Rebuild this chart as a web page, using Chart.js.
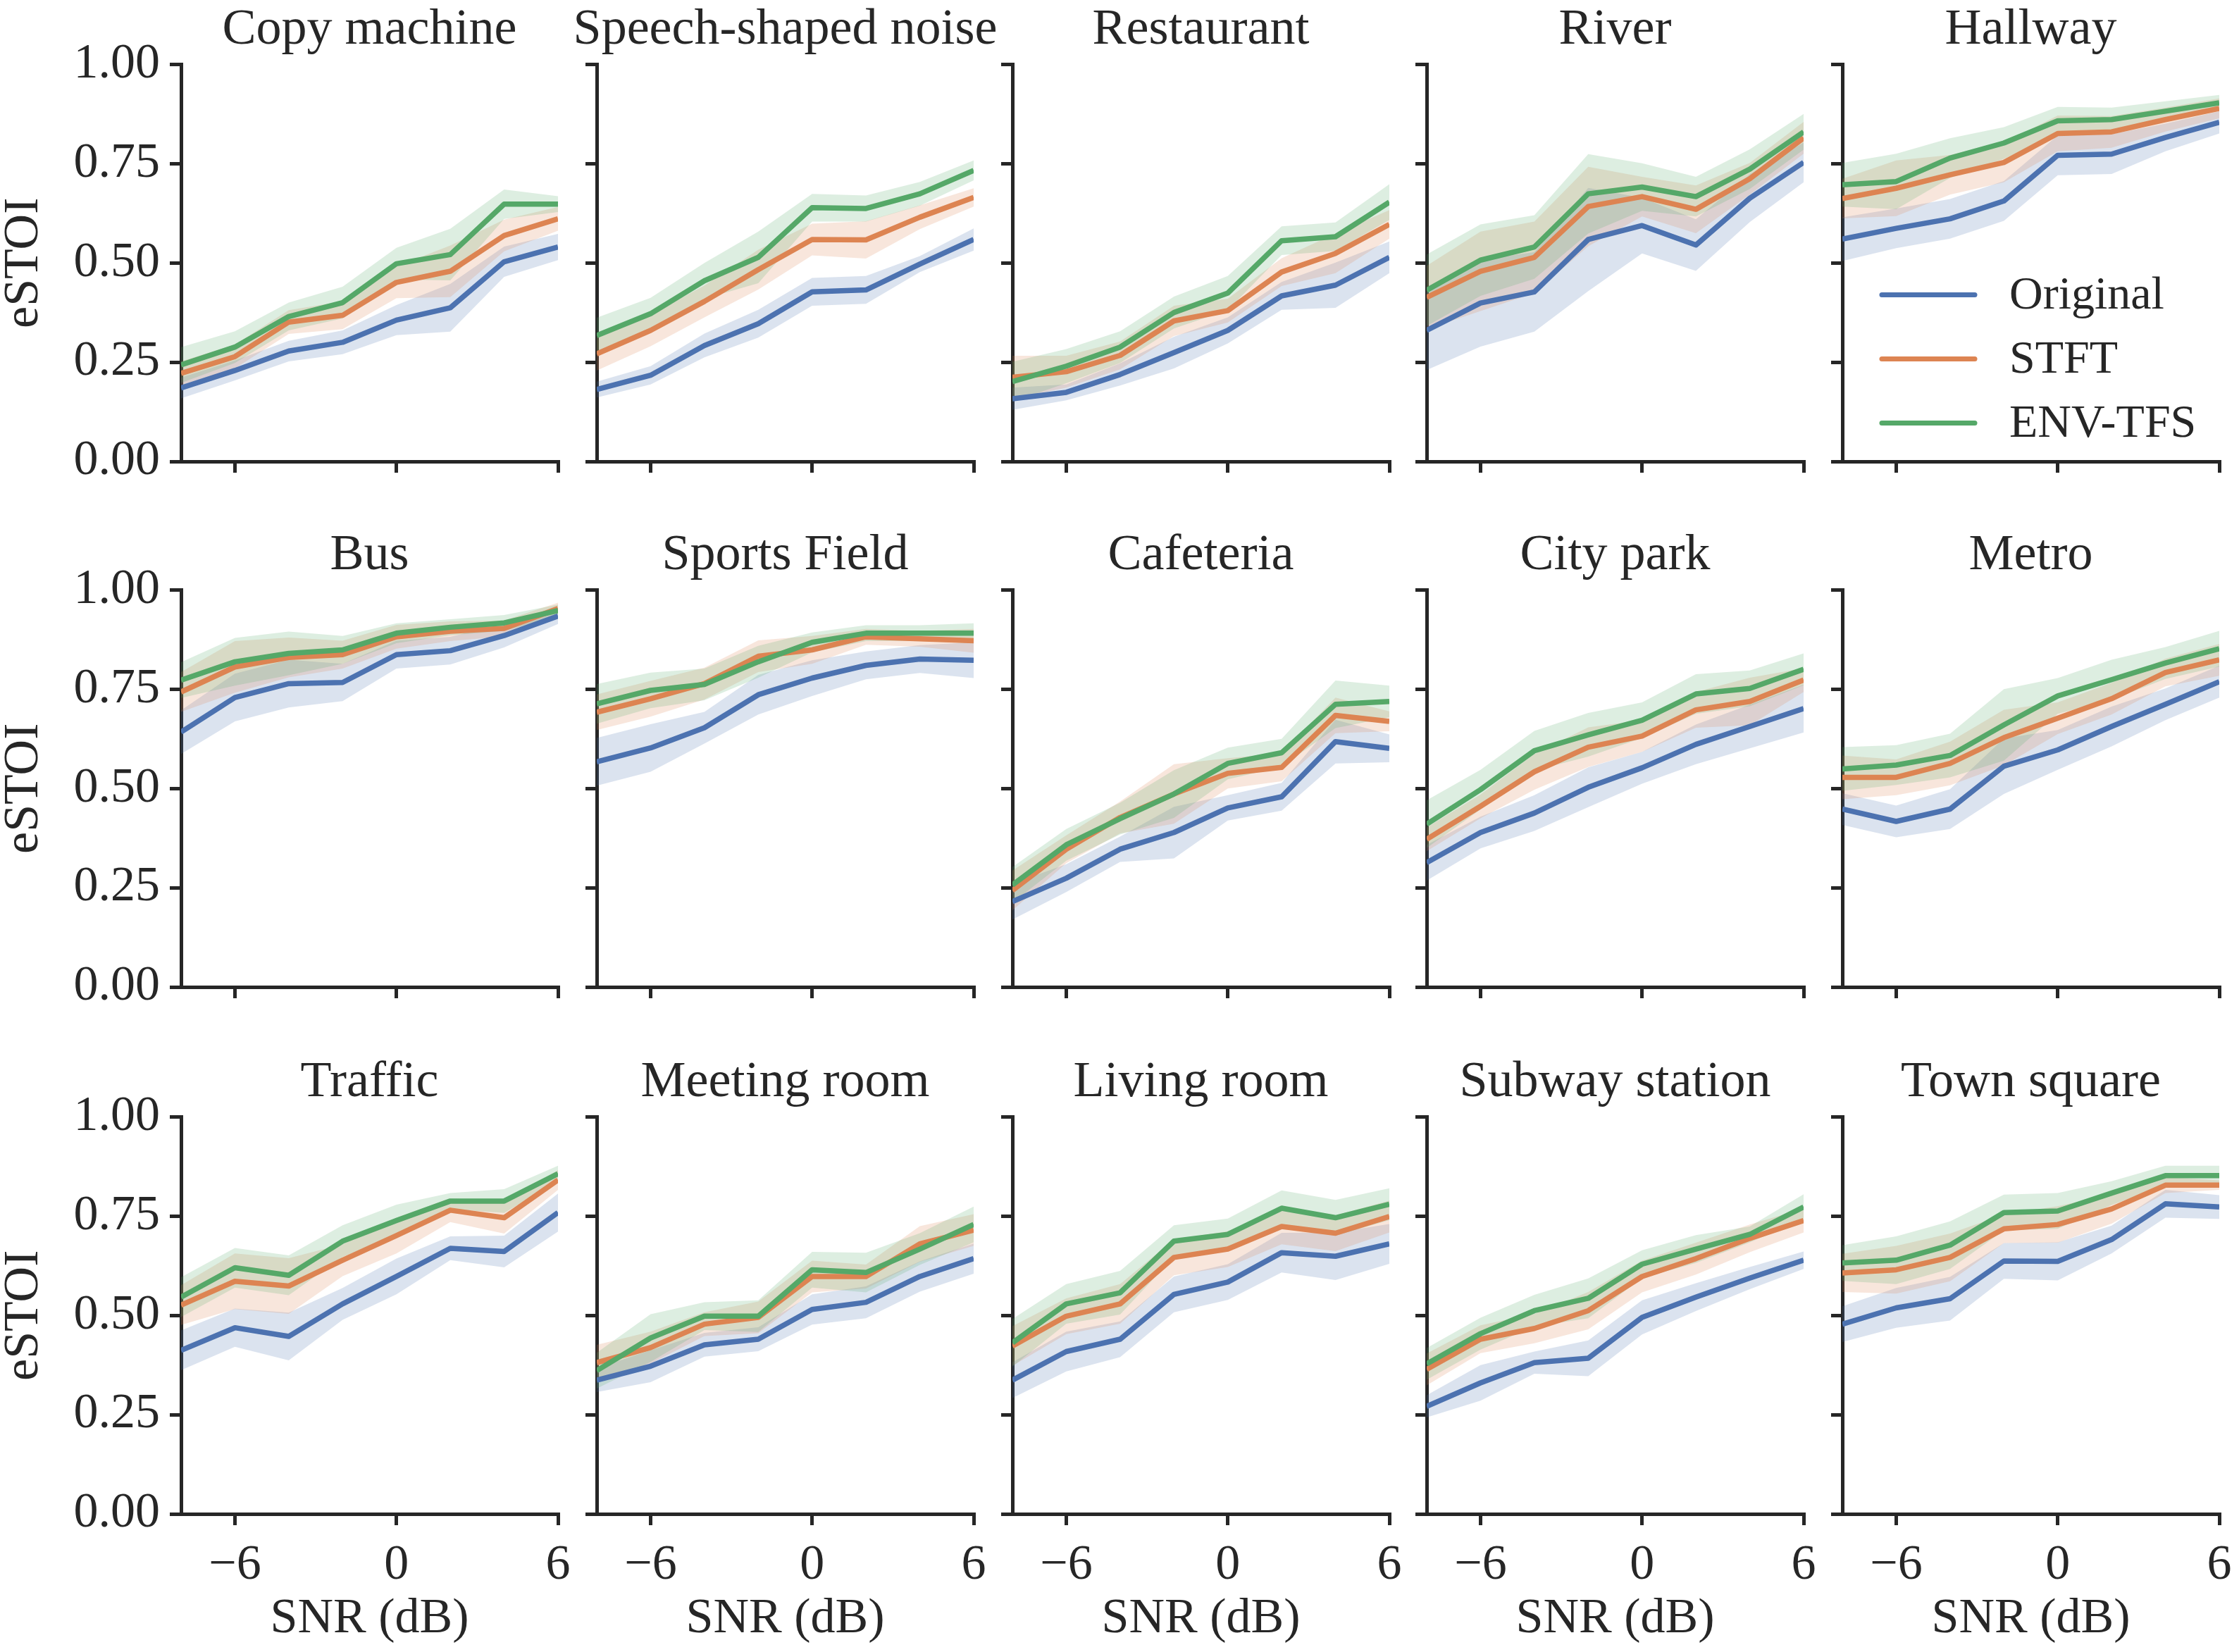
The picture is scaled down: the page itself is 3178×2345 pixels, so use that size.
<!DOCTYPE html>
<html>
<head>
<meta charset="utf-8">
<script src="https://cdn.jsdelivr.net/npm/chart.js@4.4.1/dist/chart.umd.min.js"></script>
<style>
    html, body { margin: 0; padding: 0; background: #fff; }
    #fig { position: relative; width: 3178px; height: 2345px; overflow: hidden; }
    #fig canvas { position: absolute; }
</style>
</head>
<body>
<div id="fig"></div>
<script>
/* ---- data (eSTOI per noise type, SNR -8..6 dB) ---- */
const panels = [
    "Copy machine", "Speech-shaped noise", "Restaurant", "River", "Hallway",
    "Bus", "Sports Field", "Cafeteria", "City park", "Metro",
    "Traffic", "Meeting room", "Living room", "Subway station", "Town square"
];
const snr = [-8, -6, -4, -2, 0, 2, 4, 6];
const xTicks = [-6, 0, 6];
const yTicks = [0, 0.25, 0.5, 0.75, 1];
const seriesNames = ["Original", "STFT", "ENV-TFS"];

const originalMean = [
    [0.185, 0.229, 0.278, 0.300, 0.356, 0.387, 0.503, 0.540],
    [0.181, 0.217, 0.292, 0.347, 0.427, 0.432, 0.497, 0.559],
    [0.158, 0.174, 0.219, 0.274, 0.330, 0.417, 0.444, 0.514],
    [0.330, 0.399, 0.427, 0.559, 0.594, 0.545, 0.663, 0.753],
    [0.560, 0.587, 0.611, 0.656, 0.771, 0.774, 0.816, 0.854],
    [0.642, 0.729, 0.764, 0.767, 0.837, 0.847, 0.885, 0.934],
    [0.567, 0.602, 0.653, 0.736, 0.778, 0.810, 0.826, 0.823],
    [0.215, 0.274, 0.347, 0.389, 0.451, 0.479, 0.618, 0.601],
    [0.313, 0.389, 0.438, 0.503, 0.552, 0.611, 0.656, 0.701],
    [0.448, 0.417, 0.448, 0.556, 0.597, 0.656, 0.712, 0.769],
    [0.412, 0.469, 0.447, 0.529, 0.598, 0.669, 0.661, 0.759],
    [0.337, 0.372, 0.426, 0.440, 0.515, 0.533, 0.598, 0.643],
    [0.337, 0.409, 0.440, 0.553, 0.584, 0.658, 0.649, 0.680],
    [0.271, 0.330, 0.381, 0.392, 0.495, 0.546, 0.594, 0.639],
    [0.478, 0.519, 0.542, 0.637, 0.636, 0.691, 0.781, 0.773]
];
const originalErr = [
    [0.026, 0.025, 0.026, 0.030, 0.038, 0.060, 0.038, 0.033],
    [0.020, 0.023, 0.030, 0.035, 0.035, 0.035, 0.020, 0.028],
    [0.028, 0.020, 0.028, 0.040, 0.033, 0.035, 0.057, 0.040],
    [0.100, 0.110, 0.100, 0.130, 0.070, 0.065, 0.060, 0.050],
    [0.055, 0.050, 0.050, 0.050, 0.050, 0.050, 0.035, 0.028],
    [0.055, 0.060, 0.060, 0.047, 0.035, 0.035, 0.030, 0.020],
    [0.060, 0.060, 0.040, 0.050, 0.045, 0.035, 0.035, 0.045],
    [0.045, 0.035, 0.032, 0.065, 0.032, 0.035, 0.055, 0.035],
    [0.045, 0.040, 0.045, 0.050, 0.040, 0.050, 0.055, 0.060],
    [0.040, 0.040, 0.050, 0.070, 0.050, 0.050, 0.040, 0.040],
    [0.050, 0.048, 0.060, 0.040, 0.045, 0.030, 0.040, 0.048],
    [0.030, 0.040, 0.030, 0.030, 0.038, 0.040, 0.038, 0.038],
    [0.045, 0.050, 0.045, 0.045, 0.045, 0.050, 0.060, 0.050],
    [0.028, 0.045, 0.028, 0.045, 0.043, 0.035, 0.028, 0.022],
    [0.045, 0.050, 0.055, 0.045, 0.048, 0.035, 0.035, 0.030]
];

const stftMean = [
    [0.222, 0.264, 0.351, 0.368, 0.451, 0.479, 0.569, 0.611],
    [0.271, 0.330, 0.403, 0.483, 0.559, 0.558, 0.615, 0.665],
    [0.212, 0.226, 0.267, 0.354, 0.380, 0.477, 0.524, 0.597],
    [0.413, 0.479, 0.514, 0.642, 0.667, 0.635, 0.712, 0.815],
    [0.662, 0.688, 0.722, 0.753, 0.826, 0.830, 0.861, 0.889],
    [0.743, 0.806, 0.830, 0.837, 0.882, 0.896, 0.903, 0.953],
    [0.692, 0.726, 0.764, 0.833, 0.849, 0.882, 0.877, 0.872],
    [0.243, 0.347, 0.427, 0.486, 0.538, 0.553, 0.684, 0.669],
    [0.372, 0.455, 0.542, 0.604, 0.632, 0.698, 0.719, 0.773],
    [0.528, 0.528, 0.563, 0.628, 0.677, 0.726, 0.792, 0.824],
    [0.526, 0.586, 0.574, 0.639, 0.701, 0.765, 0.746, 0.841],
    [0.381, 0.419, 0.478, 0.495, 0.598, 0.598, 0.680, 0.715],
    [0.423, 0.498, 0.529, 0.646, 0.667, 0.724, 0.707, 0.749],
    [0.364, 0.440, 0.467, 0.512, 0.598, 0.643, 0.694, 0.739],
    [0.607, 0.615, 0.646, 0.718, 0.729, 0.768, 0.828, 0.828]
];
const stftErr = [
    [0.030, 0.030, 0.030, 0.035, 0.040, 0.065, 0.040, 0.030],
    [0.042, 0.040, 0.040, 0.050, 0.040, 0.047, 0.030, 0.023],
    [0.054, 0.040, 0.035, 0.038, 0.030, 0.035, 0.050, 0.036],
    [0.080, 0.100, 0.090, 0.100, 0.050, 0.060, 0.040, 0.040],
    [0.050, 0.070, 0.050, 0.050, 0.045, 0.040, 0.030, 0.025],
    [0.050, 0.065, 0.050, 0.035, 0.030, 0.025, 0.020, 0.015],
    [0.045, 0.045, 0.040, 0.040, 0.035, 0.020, 0.020, 0.030],
    [0.050, 0.035, 0.040, 0.075, 0.038, 0.035, 0.045, 0.025],
    [0.030, 0.030, 0.045, 0.050, 0.040, 0.045, 0.060, 0.030],
    [0.055, 0.045, 0.055, 0.070, 0.040, 0.040, 0.035, 0.040],
    [0.050, 0.070, 0.070, 0.040, 0.045, 0.030, 0.040, 0.025],
    [0.045, 0.040, 0.030, 0.040, 0.040, 0.030, 0.045, 0.040],
    [0.050, 0.045, 0.050, 0.045, 0.045, 0.045, 0.045, 0.040],
    [0.040, 0.035, 0.037, 0.047, 0.040, 0.040, 0.035, 0.030],
    [0.048, 0.060, 0.060, 0.036, 0.046, 0.037, 0.020, 0.012]
];

const envTfsMean = [
    [0.243, 0.288, 0.365, 0.400, 0.498, 0.521, 0.648, 0.648],
    [0.317, 0.372, 0.455, 0.514, 0.639, 0.637, 0.674, 0.733],
    [0.201, 0.240, 0.288, 0.375, 0.424, 0.556, 0.566, 0.653],
    [0.431, 0.507, 0.540, 0.674, 0.691, 0.667, 0.736, 0.830],
    [0.697, 0.705, 0.764, 0.802, 0.858, 0.861, 0.882, 0.903],
    [0.773, 0.819, 0.840, 0.849, 0.891, 0.906, 0.917, 0.948],
    [0.713, 0.747, 0.762, 0.819, 0.868, 0.891, 0.891, 0.891],
    [0.257, 0.358, 0.424, 0.486, 0.563, 0.590, 0.712, 0.719],
    [0.410, 0.497, 0.595, 0.635, 0.672, 0.738, 0.752, 0.800],
    [0.549, 0.559, 0.583, 0.660, 0.733, 0.774, 0.816, 0.852],
    [0.546, 0.620, 0.601, 0.687, 0.739, 0.788, 0.788, 0.857],
    [0.361, 0.443, 0.498, 0.498, 0.615, 0.608, 0.667, 0.729],
    [0.431, 0.529, 0.557, 0.687, 0.704, 0.770, 0.746, 0.780],
    [0.378, 0.454, 0.512, 0.543, 0.629, 0.667, 0.704, 0.773],
    [0.632, 0.639, 0.677, 0.759, 0.763, 0.808, 0.852, 0.852]
];
const envTfsErr = [
    [0.045, 0.040, 0.035, 0.040, 0.040, 0.065, 0.037, 0.020],
    [0.045, 0.040, 0.045, 0.065, 0.035, 0.033, 0.030, 0.025],
    [0.050, 0.043, 0.040, 0.040, 0.043, 0.036, 0.036, 0.045],
    [0.090, 0.090, 0.080, 0.100, 0.060, 0.050, 0.050, 0.045],
    [0.055, 0.070, 0.050, 0.040, 0.035, 0.030, 0.025, 0.020],
    [0.045, 0.060, 0.055, 0.035, 0.025, 0.020, 0.020, 0.015],
    [0.050, 0.045, 0.040, 0.040, 0.025, 0.020, 0.020, 0.025],
    [0.045, 0.040, 0.040, 0.060, 0.040, 0.035, 0.060, 0.040],
    [0.060, 0.050, 0.050, 0.055, 0.045, 0.050, 0.045, 0.040],
    [0.055, 0.050, 0.055, 0.090, 0.045, 0.050, 0.040, 0.045],
    [0.050, 0.050, 0.050, 0.040, 0.040, 0.020, 0.030, 0.020],
    [0.045, 0.060, 0.035, 0.040, 0.045, 0.050, 0.040, 0.045],
    [0.060, 0.050, 0.055, 0.040, 0.040, 0.045, 0.045, 0.040],
    [0.040, 0.040, 0.040, 0.050, 0.035, 0.035, 0.020, 0.032],
    [0.045, 0.060, 0.060, 0.045, 0.045, 0.030, 0.025, 0.025]
];

/* ---- style ---- */
const FONT = "'Liberation Serif', 'Times New Roman', serif";
const INK = "#262626";
const lineColors = ["#4C72B0", "#DD8452", "#55A868"];
const bandColors = ["rgba(76,114,176,0.2)", "rgba(221,132,82,0.2)", "rgba(85,168,104,0.2)"];
const means = [originalMean, stftMean, envTfsMean];
const errs = [originalErr, stftErr, envTfsErr];

Chart.defaults.font.family = FONT;
Chart.defaults.font.size = 70;
Chart.defaults.color = INK;

// plot area of each subplot
const colLeft = [257, 847, 1437, 2025, 2615];
const rowTop = [91, 837, 1585];
const plotW = 535, plotH = 564;
const titleH = 110;

const fmtX = v => v < 0 ? "\u2212" + Math.abs(v) : String(v);

// legend inside the "Hallway" panel
const legendPlugin = {
    id: "seriesLegend",
    afterDatasetsDraw(chart) {
        const { ctx, chartArea: a } = chart;
        ctx.save();
        ctx.font = `66px ${FONT}`;
        ctx.textBaseline = "middle";
        ctx.textAlign = "left";
        seriesNames.forEach((name, s) => {
            const y = a.top + 327 + s * 91;
            ctx.strokeStyle = lineColors[s];
            ctx.lineWidth = 7;
            ctx.lineCap = "round";
            ctx.beginPath();
            ctx.moveTo(a.left + 56, y);
            ctx.lineTo(a.left + 188, y);
            ctx.stroke();
            ctx.fillStyle = INK;
            ctx.fillText(name, a.left + 237, y + 2);
        });
        ctx.restore();
    }
};

function buildDatasets(p) {
    const lines = [];
    const bands = [];
    for (let s = 0; s < 3; s++) {
        const m = means[s][p], e = errs[s][p];
        lines.push({
            label: seriesNames[s],
            data: snr.map((x, k) => ({ x, y: m[k] })),
            borderColor: lineColors[s],
            borderWidth: 7.5,
            borderJoinStyle: "round",
            pointRadius: 0,
            fill: false,
            tension: 0,
            order: 2 - s
        });
        bands.push({
            label: seriesNames[s] + " hi",
            data: snr.map((x, k) => ({ x, y: m[k] + e[k] })),
            borderWidth: 0,
            pointRadius: 0,
            backgroundColor: bandColors[s],
            fill: "+1",
            tension: 0,
            order: 5 - s
        }, {
            label: seriesNames[s] + " lo",
            data: snr.map((x, k) => ({ x, y: m[k] - e[k] })),
            borderWidth: 0,
            pointRadius: 0,
            fill: false,
            tension: 0,
            order: 5 - s
        });
    }
    return bands.concat(lines);
}

const fig = document.getElementById("fig");

panels.forEach((name, p) => {
    const r = Math.floor(p / 5), c = p % 5;
    const yW = c === 0 ? 257 : 60;
    const xH = r === 2 ? 185 : 60;
    // symmetric width (empty right axis of the same width) so the title centres over the plot
    const w = 2 * yW + plotW;
    const h = titleH + plotH + xH;

    const cv = document.createElement("canvas");
    cv.width = w;
    cv.height = h;
    cv.style.width = w + "px";
    cv.style.height = h + "px";
    cv.style.left = (colLeft[c] - yW) + "px";
    cv.style.top = (rowTop[r] - titleH) + "px";
    fig.appendChild(cv);

    new Chart(cv.getContext("2d"), {
        type: "line",
        data: { datasets: buildDatasets(p) },
        plugins: p === 4 ? [legendPlugin] : [],
        options: {
            responsive: false,
            animation: false,
            devicePixelRatio: 1,
            layout: { padding: 0 },
            plugins: {
                legend: { display: false },
                tooltip: { enabled: false },
                title: {
                    display: true,
                    text: name,
                    color: INK,
                    font: { family: FONT, size: 72, weight: "normal", lineHeight: 1.2 },
                    padding: { top: 19, bottom: 5 }
                }
            },
            scales: {
                x: {
                    type: "linear",
                    min: -8, max: 6,
                    afterBuildTicks: s => { s.ticks = xTicks.map(v => ({ value: v })); },
                    afterFit: s => { s.height = xH; },
                    ticks: {
                        display: r === 2,
                        callback: v => fmtX(v),
                        color: INK,
                        font: { family: FONT, size: 70, weight: "normal" },
                        padding: 16,
                        maxRotation: 0,
                        autoSkip: false
                    },
                    grid: { drawOnChartArea: false, drawTicks: true, tickLength: 16, lineWidth: 5, color: INK },
                    border: { display: true, width: 5, color: INK },
                    title: {
                        display: r === 2,
                        text: "SNR (dB)",
                        color: INK,
                        font: { family: FONT, size: 70, weight: "normal", lineHeight: 1.0 },
                        padding: 0
                    }
                },
                y: {
                    min: 0, max: 1,
                    afterBuildTicks: s => { s.ticks = yTicks.map(v => ({ value: v })); },
                    afterFit: s => { s.width = yW; },
                    ticks: {
                        display: c === 0,
                        callback: v => v.toFixed(2),
                        color: INK,
                        font: { family: FONT, size: 70, weight: "normal" },
                        padding: 14
                    },
                    grid: { drawOnChartArea: false, drawTicks: true, tickLength: 16, lineWidth: 5, color: INK },
                    border: { display: true, width: 5, color: INK },
                    title: {
                        display: c === 0,
                        text: "eSTOI",
                        color: INK,
                        font: { family: FONT, size: 70, weight: "normal", lineHeight: 1.0 },
                        padding: 0
                    }
                },
                spacer: {
                    type: "linear",
                    position: "right",
                    afterFit: s => { s.width = yW; },
                    ticks: { display: false },
                    grid: { display: false, drawTicks: false },
                    border: { display: false },
                    title: { display: false }
                }
            }
        }
    });
});
</script>
</body>
</html>
